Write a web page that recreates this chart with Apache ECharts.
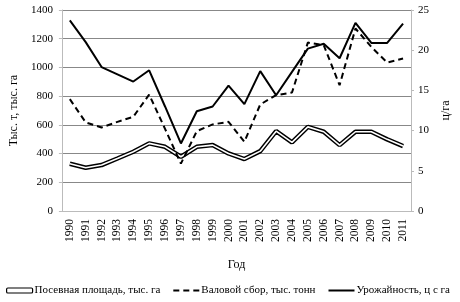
<!DOCTYPE html>
<html><head><meta charset="utf-8">
<script src="https://cdn.jsdelivr.net/npm/echarts@6/dist/echarts.min.js"></script>
<style>html,body{margin:0;padding:0;background:#fff}#c{width:460px;height:302px}</style>
</head><body><div id="c"></div>
<script>
const years = ['1990','1991','1992','1993','1994','1995','1996','1997','1998','1999','2000','2001','2002','2003','2004','2005','2006','2007','2008','2009','2010','2011'];
const area = [329,301,320,366,413,471,447,378,447,459,401,362,417,556,478,586,552,459,552,552,499,452];
const gross = [779,617,582,621,656,811,572,330,556,603,621,482,742,807,825,1173,1155,876,1271,1143,1034,1062];
const yieldV = [23.7,21.0,17.9,17.0,16.1,17.5,13.0,8.4,12.4,13.0,15.6,13.3,17.4,14.4,17.3,20.2,20.8,19.0,23.4,20.9,20.9,23.3];
const leftTicks = {min:0, max:1400, interval:200};
const rightTicks = {min:0, max:25, interval:5};
const names = ['Посевная площадь, тыс. га','Валовой сбор, тыс. тонн','Урожайность, ц с га'];
const F = '"Liberation Serif", "DejaVu Serif", serif';
const chart = echarts.init(document.getElementById('c'), null, {renderer:'canvas'});
chart.setOption({
  animation:false,
  textStyle:{fontFamily:F},
  grid:{left:60, right:49, top:10, bottom:91},
  legend:{
    left:6, top:285, width:454, padding:0, itemWidth:26, itemHeight:5, itemGap:13,
    textStyle:{fontFamily:F, fontSize:11, color:'#000', padding:[0,0,0,-3]},
    data:[
      {name:names[0], icon:'roundRect', itemStyle:{color:'#fff', borderColor:'#000', borderWidth:1.2}},
      {name:names[1], icon:'path://M0,0H6V2H0Z M10,0H16V2H10Z M20,0H26V2H20Z', itemStyle:{color:'#000', borderWidth:0}},
      {name:names[2], icon:'path://M0,0H26V2H0Z', itemStyle:{color:'#000', borderWidth:0}}
    ]
  },
  xAxis:{
    type:'category', data:years, boundaryGap:true,
    name:'Год', nameLocation:'middle', nameGap:48,
    nameTextStyle:{fontFamily:F, fontSize:12, color:'#000'},
    axisLine:{lineStyle:{color:'#bbb'}},
    axisTick:{lineStyle:{color:'#bbb'}, length:4},
    axisLabel:{rotate:90, fontFamily:F, fontSize:11.5, color:'#000', margin:8, interval:0}
  },
  yAxis:[
    {type:'value', min:leftTicks.min, max:leftTicks.max, interval:leftTicks.interval,
     name:'Тыс. т, тыс. га', nameLocation:'middle', nameGap:34,
     nameTextStyle:{fontFamily:F, fontSize:12, color:'#000'},
     axisLine:{show:true, lineStyle:{color:'#bbb'}},
     axisTick:{show:true, length:3, lineStyle:{color:'#bbb'}},
     axisLabel:{fontFamily:F, fontSize:11, color:'#000', margin:9, formatter:v=>String(v)},
     splitLine:{show:true, lineStyle:{color:'#888', width:1}}},
    {type:'value', min:rightTicks.min, max:rightTicks.max, interval:rightTicks.interval,
     name:'ц/га', nameLocation:'middle', nameGap:26,
     nameTextStyle:{fontFamily:F, fontSize:12, color:'#000'},
     axisLine:{show:true, lineStyle:{color:'#bbb'}},
     axisTick:{show:true, length:3, lineStyle:{color:'#bbb'}},
     axisLabel:{fontFamily:F, fontSize:11, color:'#000', margin:7},
     splitLine:{show:false}}
  ],
  series:[
    {name:names[0], type:'line', yAxisIndex:0, data:area, symbol:'none', lineStyle:{color:'#000', width:4.5}, itemStyle:{color:'#000'}, z:2},
    {name:'_inner', type:'line', yAxisIndex:0, data:area, symbol:'none', lineStyle:{color:'#fff', width:1.6}, z:3, silent:true},
    {name:names[1], type:'line', yAxisIndex:0, data:gross, symbol:'none', lineStyle:{color:'#000', width:2, type:[6,4]}, itemStyle:{color:'#000'}, z:4},
    {name:names[2], type:'line', yAxisIndex:1, data:yieldV, symbol:'none', lineStyle:{color:'#000', width:2}, itemStyle:{color:'#000'}, z:5}
  ]
});
</script></body></html>
